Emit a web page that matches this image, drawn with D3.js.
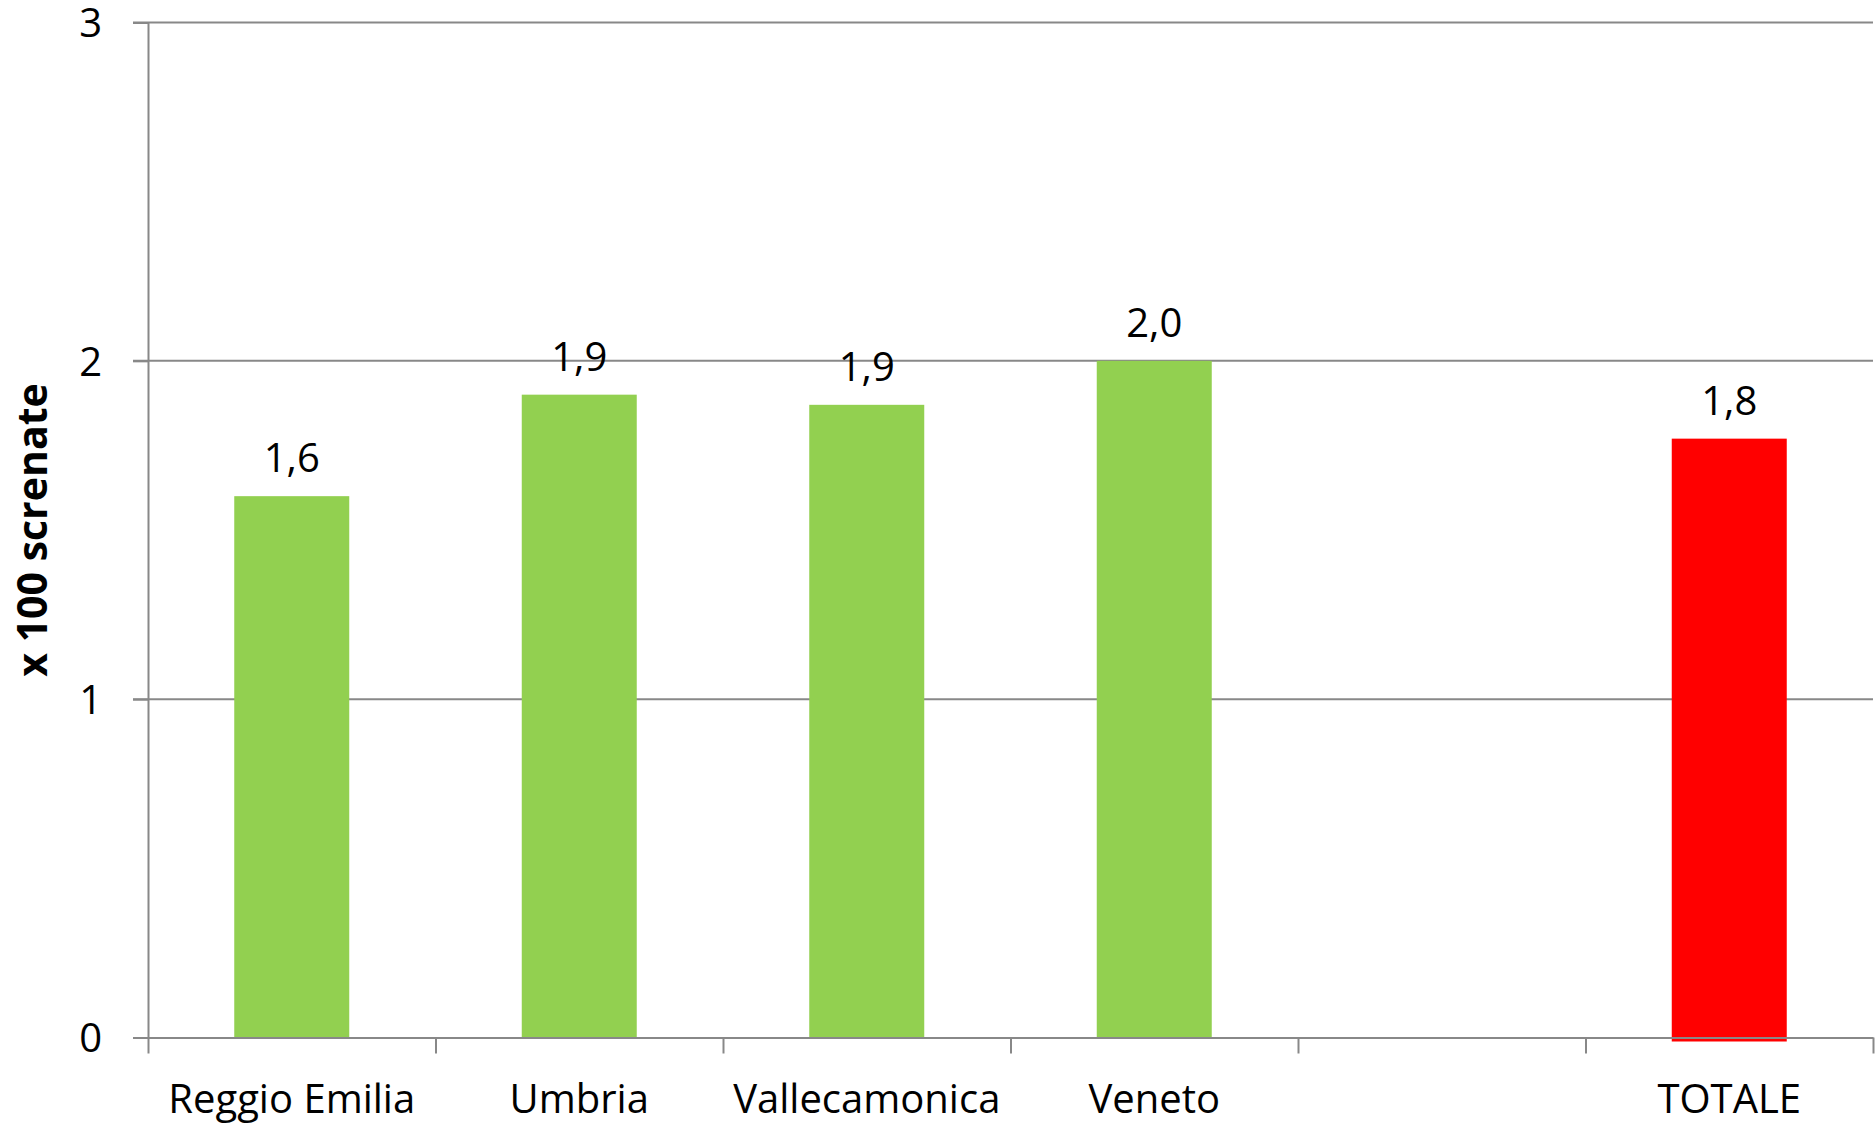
<!DOCTYPE html>
<html lang="en">
<head>
<meta charset="utf-8">
<title>x 100 screenate</title>
<script src="https://d3js.org/d3.v7.min.js"></script>
<style>
  html, body { margin:0; padding:0; background:#fff; }
  svg text { font-family: "Open Sans", Lato, sans-serif; fill:#000; }
  .grid line, .axis path, .axis line { stroke:#888; stroke-width:2; }
</style>
</head>
<body>
<script>
// data
var categories = ["Reggio Emilia", "Umbria", "Vallecamonica", "Veneto", "", "TOTALE"];
var values = [1.6, 1.9, 1.87, 2.0, null, 1.77];
var barColors = ["#92D050", "#92D050", "#92D050", "#92D050", null, "#FF0000"];
var yTicks = [0, 1, 2, 3];
var yTitle = "x 100 screnate";

var W = 1875, H = 1125;
var plotL = 148, plotR = 1873, plotT = 22.5, plotB = 1037.5;
var fontSize = "40px";

var svg = d3.select("body").append("svg")
  .attr("width", W).attr("height", H);

var x = d3.scaleBand().domain(categories).range([plotL, plotR])
  .paddingInner(0.6).paddingOuter(0.3);
// band boundaries for the category ticks
var xb = d3.scaleLinear().domain([0, categories.length]).range([plotL, plotR]);
var y = d3.scaleLinear().domain([0, 3]).range([plotB, plotT]);

// gridlines
svg.append("g").attr("class", "grid")
  .selectAll("line").data(yTicks.filter(function(d){ return d > 0; }))
  .enter().append("line")
  .attr("x1", plotL - 15).attr("x2", plotR)
  .attr("y1", function(d){ return y(d); })
  .attr("y2", function(d){ return y(d); });

// y axis
var yAxis = svg.append("g").attr("class", "axis")
  .attr("transform", "translate(" + plotL + ",0)")
  .call(d3.axisLeft(y).tickValues(yTicks).tickSize(15).tickSizeOuter(0).tickPadding(31).tickFormat(d3.format("d")));
yAxis.selectAll("text").style("font-size", fontSize).attr("dy", "0.36em");

// bars
var data = categories.map(function(c, i){ return {cat: c, v: values[i], col: barColors[i]}; })
  .filter(function(d){ return d.v != null; });

svg.append("g").selectAll("rect").data(data).enter().append("rect")
  .attr("x", function(d){ return x(d.cat); })
  .attr("width", x.bandwidth())
  .attr("y", function(d){ return y(d.v); })
  .attr("height", function(d){ return y(0) - y(d.v) + (d.cat === "TOTALE" ? 4 : 0); })
  .attr("fill", function(d){ return d.col; });

// x axis
var xAxis = svg.append("g").attr("class", "axis")
  .attr("transform", "translate(0," + plotB + ")")
  .call(d3.axisBottom(xb).ticks(categories.length).tickSize(16).tickSizeOuter(0).tickFormat(""));

svg.append("g").selectAll("text").data(categories).enter().append("text")
  .attr("x", function(d){ return x(d) + x.bandwidth() / 2; })
  .attr("y", 1113)
  .attr("text-anchor", "middle")
  .style("font-size", fontSize)
  .text(function(d){ return d; });

// value labels
var fmt = d3.formatLocale({decimal: ",", thousands: ".", grouping: [3], currency: ["", "€"]}).format(".1f");
svg.append("g").selectAll("text").data(data).enter().append("text")
  .attr("x", function(d){ return x(d.cat) + x.bandwidth() / 2; })
  .attr("y", function(d){ return y(d.v) - 24; })
  .attr("text-anchor", "middle")
  .style("font-size", fontSize)
  .text(function(d){ return fmt(d.v); });

// axis title
svg.append("text")
  .attr("transform", "translate(47," + ((plotT + plotB) / 2) + ") rotate(-90)")
  .attr("text-anchor", "middle")
  .style("font-size", "41px").style("font-weight", "bold")
  .text(yTitle);
</script>
</body>
</html>
